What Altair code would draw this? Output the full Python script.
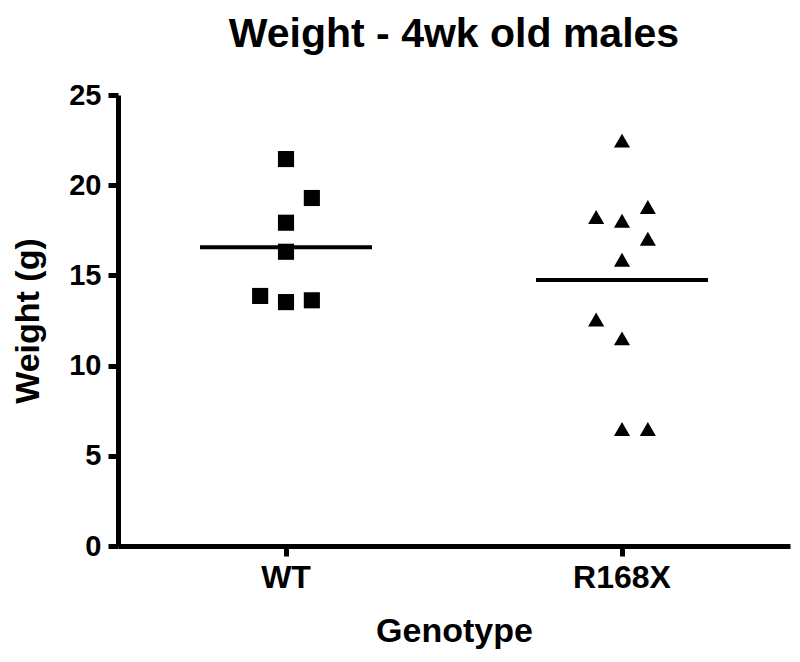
import altair as alt
import pandas as pd

genotypes = ["WT", "R168X"]

wt_weights = [21.45, 19.29, 17.92, 16.31, 13.86, 13.52, 13.62]
wt_slots = [0, 1, 0, 0, -1, 0, 1]

r168x_weights = [22.47, 18.79, 18.24, 18.03, 17.03, 15.87, 12.55, 11.51, 6.49, 6.49]
r168x_slots = [0, 1, -1, 0, 1, 0, -1, 0, 0, 1]

y_ticks = [0, 5, 10, 15, 20, 25]

df = pd.DataFrame({
    "Genotype": ["WT"] * len(wt_weights) + ["R168X"] * len(r168x_weights),
    "Weight": wt_weights + r168x_weights,
    "slot": wt_slots + r168x_slots,
})

FONT = "Liberation Sans"

x_scale = alt.Scale(domain=genotypes, paddingInner=0, paddingOuter=0)
y_scale = alt.Scale(domain=[0, 25], nice=False, zero=True)

x_axis = alt.Axis(
    title="Genotype", labelAngle=0, labelFontSize=32, labelFontWeight="bold",
    titleFontSize=34, titleFontWeight="bold", labelPadding=6, titlePadding=21,
    domainWidth=5, tickWidth=5, tickSize=10,
)
y_axis = alt.Axis(
    title="Weight (g)", values=y_ticks, labelFontSize=29, labelFontWeight="bold",
    titleFontSize=34, titleFontWeight="bold", labelPadding=7, titlePadding=23,
    domainWidth=5, tickWidth=5, tickSize=10, grid=False,
)

points = alt.Chart(df).mark_point(filled=True, opacity=1, color="black", size=260).encode(
    x=alt.X("Genotype:N", scale=x_scale, axis=x_axis, sort=genotypes),
    xOffset=alt.XOffset("slot:Q", scale=alt.Scale(domain=[-6.5, 6.5])),
    y=alt.Y("Weight:Q", scale=y_scale, axis=y_axis),
    shape=alt.Shape("Genotype:N", scale=alt.Scale(domain=genotypes, range=["square", "triangle-up"]), legend=None),
)

means = alt.Chart(df).mark_tick(color="black", size=172, thickness=4).encode(
    x=alt.X("Genotype:N", scale=x_scale, axis=x_axis, sort=genotypes),
    y=alt.Y("mean(Weight):Q", scale=y_scale, axis=y_axis),
)

chart = alt.layer(points, means).properties(
    width=672,
    height=451,
    autosize=alt.AutoSizeParams(type="none"),
    padding={"left": 110, "top": 87, "right": 2, "bottom": 116},
    title=alt.Title("Weight - 4wk old males", fontSize=41, fontWeight="bold", font=FONT,
                    color="black", offset=25, anchor="middle"),
).configure_view(stroke=None).configure_axis(
    labelFont=FONT, titleFont=FONT, labelColor="black", titleColor="black",
    domainColor="black", tickColor="black",
)

chart.save("out.html", embed_options={"renderer": "svg", "actions": False})
